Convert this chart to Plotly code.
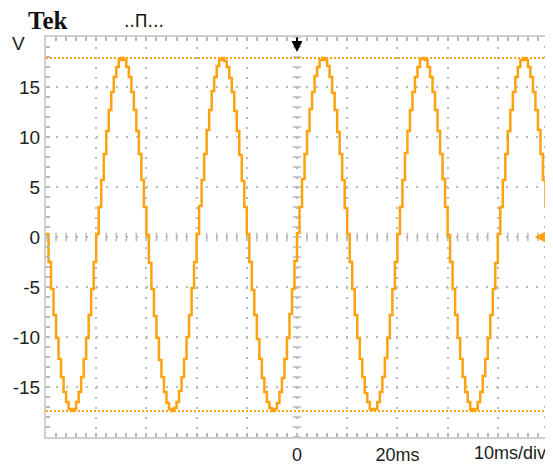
import numpy as np
import plotly.graph_objects as go

t_start_ms = -50.0
sample_step_ms = 0.5
volts = [
    0.3, -2.5, -5.2, -7.8, -10.1, -12.2, -14.0, -15.5, -16.5, -17.2,
    -17.4, -17.2, -16.5, -15.5, -14.0, -12.2, -10.1, -7.8, -5.2, -2.5,
    0.3, 3.0, 5.7, 8.3, 10.6, 12.7, 14.5, 16.0, 17.0, 17.7,
    17.9, 17.7, 17.0, 16.0, 14.5, 12.7, 10.6, 8.3, 5.7, 3.0,
    0.2, -2.6, -5.2, -7.9, -10.1, -12.3, -14.0, -15.5, -16.6, -17.2,
    -17.4, -17.1, -16.5, -15.4, -14.0, -12.2, -10.0, -7.8, -5.1, -2.5,
    0.3, 3.1, 5.7, 8.3, 10.7, 12.7, 14.6, 16.0, 17.1, 17.7,
    17.9, 17.6, 17.0, 15.9, 14.5, 12.6, 10.6, 8.2, 5.6, 3.0,
    0.3, -2.5, -5.3, -7.8, -10.2, -12.2, -14.1, -15.5, -16.5, -17.1,
    -17.4, -17.2, -16.6, -15.5, -14.1, -12.2, -10.1, -7.7, -5.2, -2.4,
    0.4, 3.0, 5.8, 8.3, 10.6, 12.8, 14.5, 16.1, 17.0, 17.7,
    17.9, 17.7, 17.1, 16.0, 14.4, 12.7, 10.5, 8.3, 5.7, 2.9,
    0.3, -2.5, -5.2, -7.8, -10.1, -12.2, -14.0, -15.6, -16.5, -17.2,
    -17.3, -17.2, -16.5, -15.5, -14.0, -12.1, -10.1, -7.8, -5.2, -2.5,
    0.3, 3.0, 5.7, 8.4, 10.6, 12.7, 14.5, 16.0, 17.0, 17.8,
    17.9, 17.7, 17.0, 16.0, 14.5, 12.7, 10.6, 8.3, 5.8, 3.0,
    0.2, -2.5, -5.2, -7.8, -10.1, -12.2, -14.0, -15.5, -16.5, -17.2,
    -17.4, -17.2, -16.5, -15.5, -13.9, -12.2, -10.1, -7.8, -5.2, -2.6,
    0.3, 3.0, 5.7, 8.3, 10.6, 12.7, 14.5, 16.0, 17.0, 17.7,
    17.9, 17.7, 17.0, 16.0, 14.5, 12.7, 10.7, 8.3, 5.7, 3.0,
    0.3,
]
cursor_levels = [17.9, -17.4]
y_tick_values = [-15, -10, -5, 0, 5, 10, 15]
y_tick_labels = ["-15", "-10", "-5", "0", "5", "10", "15"]
x_tick_values = [-40, -30, -20, -10, 0, 10, 20, 30, 40]
x_tick_labels = ["", "", "", "", "0", "", "20ms", "", ""]

times = t_start_ms + sample_step_ms * np.arange(len(volts))

ORANGE = "#FFA20F"
GRID = "#b9b9b9"
FRAME = "#cfcfcf"

fig = go.Figure()

# center-cross tick marks of the graticule
cx = np.arange(-50, 50.01, 2)
cy = np.arange(-20, 20.01, 1)
fig.add_trace(go.Scatter(x=cx, y=np.zeros_like(cx), mode="markers",
                         marker=dict(symbol="line-ns", size=6,
                                     line=dict(color=GRID, width=1.5)),
                         hoverinfo="skip"))
fig.add_trace(go.Scatter(x=np.zeros_like(cy), y=cy, mode="markers",
                         marker=dict(symbol="line-ew", size=6,
                                     line=dict(color=GRID, width=1.5)),
                         hoverinfo="skip"))

# cursors
for lvl in cursor_levels:
    fig.add_shape(type="line", xref="x", yref="y", x0=-50, x1=50, y0=lvl, y1=lvl,
                  line=dict(color=ORANGE, width=2, dash="2px,2px"))

# waveform
fig.add_trace(go.Scatter(x=times, y=volts, mode="lines",
                         line=dict(color=ORANGE, width=2.5, shape="hv"),
                         hoverinfo="skip"))

axis_common = dict(
    showgrid=True, gridcolor=GRID, gridwidth=2, griddash="2px,8px",
    ticks="inside", ticklen=4, tickwidth=1.5, tickcolor=GRID,
    showline=True, linecolor=FRAME, linewidth=2, mirror="allticks",
    zeroline=False, fixedrange=True, automargin=False,
)
label_font = dict(family="Liberation Sans", size=19, color="#222222")

# the page body has an 8px margin, so the figure is 8px smaller than the window
fig.update_layout(
    width=545, height=456,
    margin=dict(l=38, r=5, t=29, b=27),
    paper_bgcolor="white", plot_bgcolor="white",
    showlegend=False,
    xaxis=dict(range=[-50, 50], tickmode="array", tickvals=x_tick_values,
               ticktext=x_tick_labels,
               tickfont=dict(family="Liberation Sans", size=18, color="#222222"),
               minor=dict(ticks="inside", dtick=2, ticklen=4, tickwidth=1.5,
                          tickcolor=GRID, showgrid=False),
               **axis_common),
    yaxis=dict(range=[-20, 20], tickmode="array", tickvals=y_tick_values,
               ticktext=y_tick_labels, tickfont=label_font,
               minor=dict(ticks="inside", dtick=1, ticklen=4, tickwidth=1.5,
                          tickcolor=GRID, showgrid=False),
               **axis_common),
)

# page-pixel -> paper coordinates (plot area spans 46..548 x 37..437 on the page)
px2x = lambda px: (px - 46) / 502
py2y = lambda py: (437 - py) / 400

fig.add_annotation(text="<b>Tek</b>", xref="paper", yref="paper",
                   x=px2x(26), y=py2y(21), xanchor="left", yanchor="middle",
                   showarrow=False,
                   font=dict(family="Liberation Serif", size=25, color="#111111"))
fig.add_annotation(text="V", xref="paper", yref="paper",
                   x=px2x(18), y=py2y(44), xanchor="center", yanchor="middle",
                   showarrow=False, font=label_font)
fig.add_annotation(text="..Π...", xref="paper", yref="paper",
                   x=px2x(144), y=py2y(21), xanchor="center", yanchor="middle",
                   showarrow=False,
                   font=dict(family="DejaVu Sans", size=17, color="#111111"))
fig.add_annotation(text="10ms/div", xref="paper", yref="paper",
                   x=px2x(510), y=py2y(453), xanchor="center", yanchor="middle",
                   showarrow=False,
                   font=dict(family="Liberation Sans", size=18, color="#222222"))
# trigger position marker
fig.add_annotation(x=0, y=18.5, xref="x", yref="y", ax=0, ay=-16,
                   showarrow=True, arrowhead=2, arrowsize=1.1, arrowwidth=2,
                   arrowcolor="black", text="")
# ground level marker
fig.add_annotation(x=47.3, y=0, xref="x", yref="y", ax=16, ay=0,
                   showarrow=True, arrowhead=2, arrowsize=1.1, arrowwidth=2,
                   arrowcolor=ORANGE, text="")

fig.write_html("out.html")
